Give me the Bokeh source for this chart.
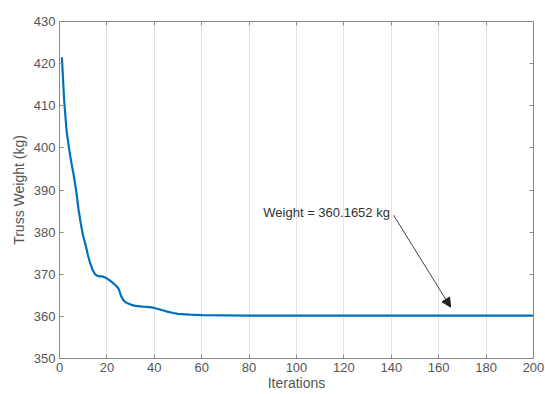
from bokeh.plotting import figure
from bokeh.models import (LinearAxis, Range1d, Arrow, NormalHead, Label, FixedTicker,
                          CustomLabelingPolicy)
from bokeh.embed import file_html
from bokeh.resources import INLINE

# Data
iterations = [1, 2, 3, 4, 5, 6, 7, 8, 9, 10, 11, 12, 13, 14, 15, 16, 17, 18, 19, 20,
              21, 22, 23, 24, 25, 26, 27, 28, 30, 32, 35, 38, 40, 42, 45, 48, 50, 55,
              60, 70, 80, 100, 120, 150, 200]
weights = [421.5, 411.0, 404.0, 400.0, 396.5, 393.5, 390.0, 385.5, 382.0, 379.0,
           377.0, 374.5, 372.5, 371.0, 370.0, 369.6, 369.5, 369.5, 369.3, 369.0,
           368.6, 368.2, 367.7, 367.2, 366.5, 364.8, 363.8, 363.3, 362.8, 362.5,
           362.3, 362.2, 362.0, 361.7, 361.2, 360.8, 360.6, 360.4, 360.3, 360.25,
           360.2, 360.18, 360.17, 360.166, 360.1652]
x_ticks = [0, 20, 40, 60, 80, 100, 120, 140, 160, 180, 200]
y_ticks = [350, 360, 370, 380, 390, 400, 410, 420, 430]
annotation_text = "Weight = 360.1652 kg"
arrow_tail = (141, 384)
arrow_head = (165, 362.2)

FONT = "Liberation Sans"
AX = "#8a8a8a"
TXT = "#555555"

p = figure(width=545, height=394, output_backend="svg", toolbar_location=None,
           x_range=Range1d(0, 200), y_range=Range1d(350, 430),
           min_border_left=59, min_border_right=12, min_border_top=21, min_border_bottom=36,
           background_fill_color="white", border_fill_color="white")
p.outline_line_color = None

hide_labels = CustomLabelingPolicy(code="""
for (const i of indices) { indices.unset(i) }
return indices
""")

def style_axis(ax, labels=True):
    ax.axis_line_color = AX
    ax.major_tick_line_color = AX
    ax.major_tick_in = 4
    ax.major_tick_out = 0
    ax.minor_tick_line_color = None
    ax.major_label_text_font = FONT
    ax.major_label_text_color = TXT
    ax.axis_label_text_font = FONT
    ax.axis_label_text_color = TXT
    ax.axis_label_text_font_size = "14px"
    ax.axis_label_text_font_style = "normal"
    if labels:
        ax.major_label_text_font_size = "13px"
        ax.major_label_standoff = 4
    else:
        ax.major_label_policy = hide_labels
        ax.major_label_text_font_size = "0px"
        ax.major_label_standoff = 0

p.xaxis.ticker = FixedTicker(ticks=x_ticks)
p.yaxis.ticker = FixedTicker(ticks=y_ticks)
style_axis(p.xaxis[0])
style_axis(p.yaxis[0])
p.xaxis.major_label_standoff = 4
p.xaxis.axis_label = "Iterations"
p.yaxis.axis_label = "Truss Weight (kg)"
p.xaxis.axis_label_standoff = 0
p.yaxis.axis_label_standoff = 4

top = LinearAxis(ticker=FixedTicker(ticks=x_ticks))
style_axis(top, labels=False)
p.add_layout(top, "above")
right = LinearAxis(ticker=FixedTicker(ticks=y_ticks))
style_axis(right, labels=False)
p.add_layout(right, "right")

p.xgrid.ticker = FixedTicker(ticks=x_ticks)
p.xgrid.grid_line_color = "#e3e3e3"
p.ygrid.grid_line_color = None

p.line(iterations, weights, line_color="#0072BD", line_width=2.2)

p.add_layout(Label(x=86, y=384.7, text=annotation_text, text_font=FONT,
                   text_font_size="13px", text_color="#333333", text_baseline="middle"))
p.add_layout(Arrow(x_start=arrow_tail[0], y_start=arrow_tail[1],
                   x_end=arrow_head[0], y_end=arrow_head[1],
                   line_color="#444444", line_width=1,
                   end=NormalHead(size=9, fill_color="#222222", line_color="#222222")))

open("out.html", "w").write(file_html(p, INLINE))
